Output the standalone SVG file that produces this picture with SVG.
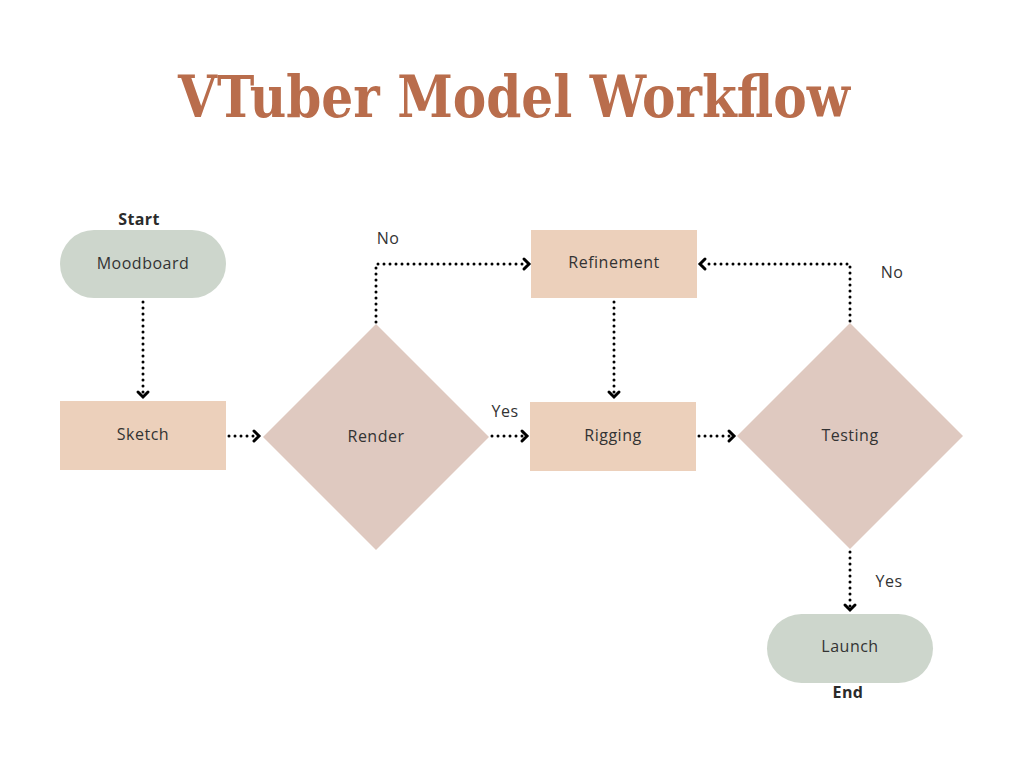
<svg xmlns="http://www.w3.org/2000/svg" width="1024" height="768" viewBox="0 0 1024 768">
<style>
.t{font-family:"Open Sans","Noto Sans",sans-serif;font-size:16px;letter-spacing:0.5px;fill:#333;text-anchor:middle;dominant-baseline:central}
.b{font-family:"Open Sans","Noto Sans",sans-serif;font-size:16px;font-weight:bold;letter-spacing:0.4px;fill:#2b2b2b;text-anchor:middle;dominant-baseline:central}
.c{fill:none;stroke:#000;stroke-width:3;stroke-linecap:round;stroke-dasharray:0 6}
.a{fill:none;stroke:#000;stroke-width:3;stroke-linecap:round;stroke-linejoin:miter}
.pill{fill:#cdd6cc}
.box{fill:#ecd0bb}
.dia{fill:#dfc9c0}
</style>
<rect width="1024" height="768" fill="#fff"/>
<text x="514" y="96" text-anchor="middle" dominant-baseline="central" font-family="DejaVu Serif,Liberation Serif,serif" font-weight="bold" font-size="57" fill="#b96d4c" textLength="672" lengthAdjust="spacingAndGlyphs">VTuber Model Workflow</text>
<g id="connectors">
<path class="c" d="M143 302 V396"/><path class="a" d="M138 392 L143 397 L148 392"/>
<path class="c" d="M229 436 H258"/><path class="a" d="M254 431 L259 436 L254 441"/>
<path class="c" d="M376 322 V264 H526"/><path class="a" d="M524 259 L529 264 L524 269"/>
<path class="c" d="M492 436 H524"/><path class="a" d="M522 431 L527 436 L522 441"/>
<path class="c" d="M614 302 V396"/><path class="a" d="M609 392 L614 397 L619 392"/>
<path class="c" d="M699 436 H731"/><path class="a" d="M729 431 L734 436 L729 441"/>
<path class="c" d="M850 321 V264 H704"/><path class="a" d="M705 259 L700 264 L705 269"/>
<path class="c" d="M850 552 V607"/><path class="a" d="M845 605 L850 610 L855 605"/>
<text class="t" x="388" y="238">No</text>
<text class="t" x="505" y="411">Yes</text>
<text class="t" x="892" y="272">No</text>
<text class="t" x="889" y="581">Yes</text>
</g>
<g id="moodboard"><rect class="pill" x="60" y="230" width="166" height="68" rx="34"/><text class="t" x="143" y="263">Moodboard</text><text class="b" x="139" y="219">Start</text></g>
<g id="sketch"><rect class="box" x="60" y="401" width="166" height="69"/><text class="t" x="143" y="434">Sketch</text></g>
<g id="render"><polygon class="dia" points="376,324 489,437 376,550 263,437"/><text class="t" x="376" y="436">Render</text></g>
<g id="refinement"><rect class="box" x="531" y="230" width="166" height="68"/><text class="t" x="614" y="262">Refinement</text></g>
<g id="rigging"><rect class="box" x="530" y="402" width="166" height="69"/><text class="t" x="613" y="435">Rigging</text></g>
<g id="testing"><polygon class="dia" points="850,323 963,436 850,549 737,436"/><text class="t" x="850" y="435">Testing</text></g>
<g id="launch"><rect class="pill" x="767" y="614" width="166" height="69" rx="34.5"/><text class="t" x="850" y="646">Launch</text><text class="b" x="848" y="692">End</text></g>
</svg>
